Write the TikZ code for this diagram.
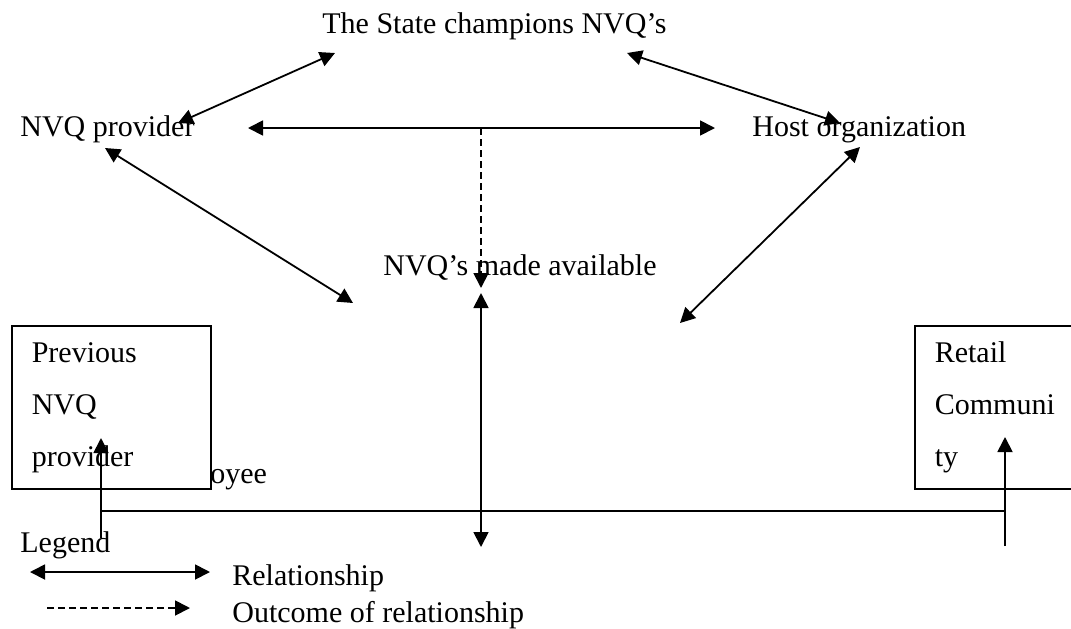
\documentclass[tikz,border=0pt]{standalone}
\usepackage{fontspec}
\setmainfont{Liberation Serif}
\usetikzlibrary{arrows.meta}
\def\boxHeight{81.5pt}
\def\tipLen{7.5pt}
\tikzset{
  lbl/.style={anchor=base west,inner sep=0pt,font=\fontsize{15}{26}\selectfont},
  party/.style={draw,fill=white,line width=0.8pt,anchor=north west,align=left,
    text width=79.5pt,inner xsep=10pt,minimum height=\boxHeight,
    font=\fontsize{15}{26}\selectfont},
  rel/.style={{Triangle[length=\tipLen,width=7.5pt]}-{Triangle[length=\tipLen,width=7.5pt]},line width=0.9pt},
  link/.style={-{Triangle[length=\tipLen,width=7.5pt]},line width=0.9pt},
  outcome/.style={link,dash pattern=on 3.5pt off 2pt}
}

\begin{document}
\begin{tikzpicture}[x=0.5pt,y=-0.5pt]
  \useasboundingbox (0,0) rectangle (1071,628);

  \node[lbl] (state) at (322,33) {The State champions NVQ’s};
  \node[lbl] (prov) at (20,136) {NVQ provider};
  \node[lbl] (host) at (752,136) {Host organization};
  \node[lbl] (avail) at (383,275) {NVQ’s made available};
  \node[lbl] (emp) at (145,483) {Employee};
  \node[party] (prev) at (11,325) {Previous\\NVQ\\provider};
  \node[party] (retail) at (914,325) {Retail\\Communi\\ty};

  \coordinate (provUp) at (178,123);
  \coordinate (stateL) at (335,53);
  \coordinate (stateR) at (627,53);
  \coordinate (hostUp) at (840,123);
  \coordinate (provE) at (248,128);
  \coordinate (hostW) at (715,128);
  \coordinate (mid) at (481,128);
  \coordinate (availTop) at (481,288);
  \coordinate (provDn) at (105,148);
  \coordinate (availL) at (353,303);
  \coordinate (hostDn) at (860,147);
  \coordinate (availR) at (680,323);
  \coordinate (availBot) at (481,293);
  \coordinate (empLink) at (481,547);
  \coordinate (prevFoot) at (101,538);
  \coordinate (prevIn) at (101,438);
  \coordinate (retailFoot) at (1005,546);
  \coordinate (retailIn) at (1005,437);
  \coordinate (lineL) at (101,511);
  \coordinate (lineR) at (1005,511);

  \draw[rel] (provUp) -- (stateL);
  \draw[rel] (stateR) -- (hostUp);
  \draw[rel] (provE) -- (hostW);
  \draw[outcome] (mid) -- (availTop);
  \draw[rel] (provDn) -- (availL);
  \draw[rel] (hostDn) -- (availR);
  \draw[rel] (availBot) -- (empLink);
  \draw[link] (prevFoot) -- (prevIn);
  \draw[link] (retailFoot) -- (retailIn);
  \draw[line width=0.7pt] (lineL) -- (lineR);

  \node[lbl] (legend) at (20,552) {Legend};
  \node[lbl] (relText) at (232,585) {Relationship};
  \node[lbl] (outText) at (232,622) {Outcome of relationship};
  \coordinate (legA) at (30,572);
  \coordinate (legB) at (210,572);
  \coordinate (legC) at (47,608);
  \coordinate (legD) at (190,608);
  \draw[rel] (legA) -- (legB);
  \draw[outcome] (legC) -- (legD);
\end{tikzpicture}
\end{document}
